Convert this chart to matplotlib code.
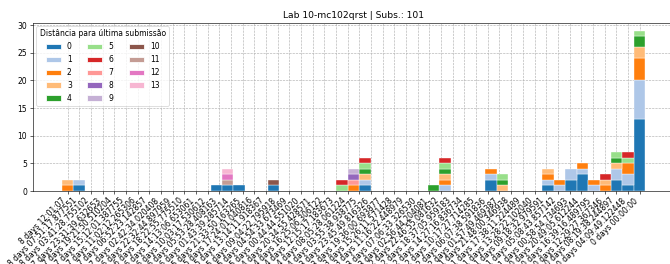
import matplotlib.pyplot as plt
import numpy as np
from matplotlib.patches import Patch

# 1. Data
title = 'Lab 10-mc102qrst | Subs.: 101'
legend_title = 'Distância para última submissão'

tick_labels = [
    '8 days 12:01:07', '8 days 07:51:17.877551', '8 days 03:41:28.755102',
    '7 days 23:31:39.632653', '7 days 19:21:50.510204', '7 days 15:12:01.387755',
    '7 days 11:02:12.265306', '7 days 06:52:23.142857', '7 days 02:42:34.020408',
    '6 days 22:32:44.897959', '6 days 18:22:55.775510', '6 days 14:13:06.653061',
    '6 days 10:03:17.530612', '6 days 05:53:28.408163', '6 days 01:43:39.285714',
    '5 days 21:33:50.163265', '5 days 17:24:01.040816', '5 days 13:14:11.918367',
    '5 days 09:04:22.795918', '5 days 04:54:33.673469', '5 days 00:44:44.551020',
    '4 days 20:34:55.428571', '4 days 16:25:06.306122', '4 days 12:15:17.183673',
    '4 days 08:05:28.061224', '4 days 03:55:38.938775', '3 days 23:45:49.816326',
    '3 days 19:36:00.693877', '3 days 15:26:11.571428', '3 days 11:16:22.448979',
    '3 days 07:06:33.326530', '3 days 02:56:44.204081', '2 days 22:46:55.081632',
    '2 days 18:37:05.959183', '2 days 14:27:16.836734', '2 days 10:17:27.714285',
    '2 days 06:07:38.591836', '2 days 01:57:49.469387', '1 days 21:48:00.346938',
    '1 days 17:38:11.224489', '1 days 13:28:22.102040', '1 days 09:18:32.979591',
    '1 days 05:08:43.857142', '1 days 00:58:54.734693', '0 days 20:49:05.612244',
    '0 days 16:39:16.489795', '0 days 12:29:27.367346', '0 days 08:19:38.244897',
    '0 days 04:09:49.122448', '0 days 00:00:00',
]

# bins (bar index) that have at least one submission
bins_used = [0, 1, 13, 14, 15, 18, 24, 25, 26, 32, 33, 37, 38, 42, 43, 44, 45, 46, 47, 48, 49, 50]

# submissions per bin, one list per "distance to last submission"
dist_0 = [0, 1, 1, 1, 1, 1, 0, 0, 1, 0, 0, 2, 0, 1, 0, 2, 3, 0, 0, 2, 1, 13]
dist_1 = [0, 1, 0, 0, 0, 0, 0, 0, 1, 0, 1, 1, 0, 1, 1, 2, 1, 1, 0, 2, 2, 7]
dist_2 = [1, 0, 0, 0, 0, 0, 0, 1, 0, 0, 1, 1, 0, 1, 1, 0, 1, 1, 1, 0, 2, 4]
dist_3 = [1, 0, 0, 0, 0, 0, 0, 0, 1, 0, 1, 0, 1, 1, 0, 0, 0, 0, 1, 1, 0, 2]
dist_4 = [0, 0, 0, 0, 0, 0, 0, 0, 1, 1, 1, 0, 1, 0, 0, 0, 0, 0, 0, 1, 0, 2]
dist_5 = [0, 0, 0, 0, 0, 0, 1, 0, 1, 0, 1, 0, 1, 0, 0, 0, 0, 0, 0, 1, 1, 1]
dist_6 = [0, 0, 0, 0, 0, 0, 1, 0, 1, 0, 1, 0, 0, 0, 0, 0, 0, 0, 1, 0, 1, 0]
dist_7 = [0, 0, 0, 0, 0, 0, 0, 1, 0, 0, 0, 0, 0, 0, 0, 0, 0, 0, 0, 0, 0, 0]
dist_8 = [0, 0, 0, 0, 0, 0, 0, 1, 0, 0, 0, 0, 0, 0, 0, 0, 0, 0, 0, 0, 0, 0]
dist_9 = [0, 0, 0, 0, 0, 0, 0, 1, 0, 0, 0, 0, 0, 0, 0, 0, 0, 0, 0, 0, 0, 0]
dist_10 = [0, 0, 0, 0, 0, 1, 0, 0, 0, 0, 0, 0, 0, 0, 0, 0, 0, 0, 0, 0, 0, 0]
dist_11 = [0, 0, 0, 1, 0, 0, 0, 0, 0, 0, 0, 0, 0, 0, 0, 0, 0, 0, 0, 0, 0, 0]
dist_12 = [0, 0, 0, 1, 0, 0, 0, 0, 0, 0, 0, 0, 0, 0, 0, 0, 0, 0, 0, 0, 0, 0]
dist_13 = [0, 0, 0, 1, 0, 0, 0, 0, 0, 0, 0, 0, 0, 0, 0, 0, 0, 0, 0, 0, 0, 0]

counts = [dist_0, dist_1, dist_2, dist_3, dist_4, dist_5, dist_6,
          dist_7, dist_8, dist_9, dist_10, dist_11, dist_12, dist_13]

# 2. Figure (small dpi so default font sizes match the picture)
dpi = 55
fig = plt.figure(figsize=(670 / dpi, 264 / dpi), dpi=dpi)
ax = fig.add_axes([0.0487, 0.2765, 0.958, 0.638])

colors = plt.get_cmap('tab20').colors
x = np.array(bins_used)
bottom = np.zeros(len(bins_used))

for h, vals in enumerate(counts):
    vals = np.array(vals, dtype=float)
    keep = vals > 0
    ax.bar(x[keep], vals[keep], width=1, bottom=bottom[keep],
           color=colors[h], edgecolor='white', linewidth=0.5)
    bottom += vals

# 3. Axes, ticks, grid
ax.set_xticks(np.linspace(bins_used[0], bins_used[-1], len(tick_labels)))
ax.set_xticklabels(tick_labels, rotation=45, ha='right')
ax.set_yticks(range(0, 31, 5))
ax.grid(True, linestyle='--')
ax.set_axisbelow(True)
ax.set_title(title)

legend_elements = [Patch(facecolor=colors[h], edgecolor='white', label=str(h))
                   for h in range(len(counts))]
ax.legend(handles=legend_elements, title=legend_title, ncol=3, loc='upper left')

fig.savefig('out.png', dpi=dpi)
